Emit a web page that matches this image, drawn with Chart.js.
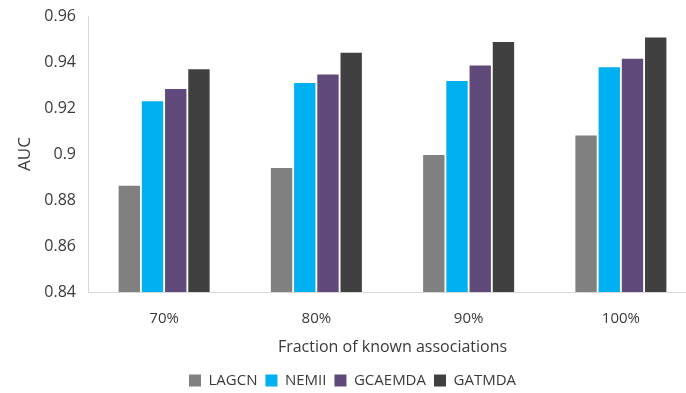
<!DOCTYPE html>
<html>
<head>
<meta charset="utf-8">
<script src="https://cdn.jsdelivr.net/npm/chart.js@4"></script>
<style>
  html, body { margin: 0; padding: 0; background: #fff; overflow: hidden; }
  #wrap { width: 716px; height: 398px; }
</style>
</head>
<body>
<div id="wrap"><canvas id="barChart" width="716" height="398"></canvas></div>
<script>
var categories = ["70%", "80%", "90%", "100%"];
var lagcn   = [0.8862, 0.8939, 0.8996, 0.9080];
var nemii   = [0.9229, 0.9309, 0.9317, 0.9377];
var gcaemda = [0.9283, 0.9346, 0.9385, 0.9414];
var gatmda  = [0.9368, 0.9440, 0.9487, 0.9507];
var yTicks  = [0.84, 0.86, 0.88, 0.9, 0.92, 0.94, 0.96];

var textColor = "#3a3a3a";
var fontFamily = "'Open Sans', 'Noto Sans', sans-serif";

var ctx = document.getElementById("barChart").getContext("2d");
var myChart = new Chart(ctx, {
  type: "bar",
  data: {
    labels: categories,
    datasets: [
      { label: "LAGCN", data: lagcn, backgroundColor: "#808080" },
      { label: "NEMII", data: nemii, backgroundColor: "#00B0F0" },
      { label: "GCAEMDA", data: gcaemda, backgroundColor: "#604A7B" },
      { label: "GATMDA", data: gatmda, backgroundColor: "#404040" },
    ],
  },
  options: {
    responsive: false,
    animation: false,
    layout: { padding: { left: 8, right: 19, top: 16, bottom: 0 } },
    datasets: {
      bar: {
        categoryPercentage: 0.61,
        barPercentage: 0.92,
        borderWidth: 0,
      },
    },
    plugins: {
      legend: {
        position: "bottom",
        labels: {
          color: textColor,
          font: { family: fontFamily, size: 15 },
          boxWidth: 12,
          boxHeight: 12,
          padding: 8,
        },
      },
      tooltip: { enabled: false },
    },
    scales: {
      x: {
        afterFit: function (scale) { scale.height = 73; },
        grid: { display: false, drawTicks: false },
        border: { display: true, color: "#d9d9d9", width: 1 },
        ticks: {
          color: textColor,
          font: { family: fontFamily, size: 15 },
          padding: 18,
        },
        title: {
          display: true,
          text: "Fraction of known associations",
          color: textColor,
          font: { family: fontFamily, size: 16 },
          padding: { top: 6, bottom: 8 },
        },
      },
      y: {
        min: 0.84,
        max: 0.96,
        afterFit: function (scale) {
          scale.width = 80;
          scale.paddingTop = 0;
          scale.paddingBottom = 0;
        },
        afterBuildTicks: function (scale) {
          scale.ticks = yTicks.map(function (v) { return { value: v }; });
        },
        grid: { display: false, drawTicks: false },
        border: { display: true, color: "#d9d9d9", width: 1 },
        ticks: {
          color: textColor,
          font: { family: fontFamily, size: 16 },
          padding: 12,
          callback: function (value) {
            return String(Number(value.toFixed(2)));
          },
        },
        title: {
          display: true,
          text: "AUC",
          color: textColor,
          font: { family: fontFamily, size: 17 },
          padding: { top: 7, bottom: 7 },
        },
      },
    },
  },
});
</script>
</body>
</html>
